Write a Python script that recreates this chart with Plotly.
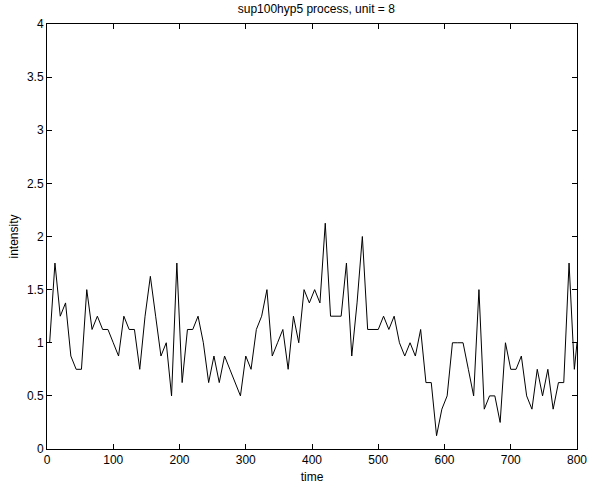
import plotly.graph_objects as go

# Bin centres (bin width 8) and the intensity of each bin
time = [4 + 8 * k for k in range(100)] + [800]
intensity = [
    1.0, 1.75, 1.25, 1.375, 0.875, 0.75, 0.75, 1.5, 1.125, 1.25,
    1.125, 1.125, 1.0, 0.875, 1.25, 1.125, 1.125, 0.75, 1.25, 1.625,
    1.25, 0.875, 1.0, 0.5, 1.75, 0.625, 1.125, 1.125, 1.25, 1.0,
    0.625, 0.875, 0.625, 0.875, 0.75, 0.625, 0.5, 0.875, 0.75, 1.125,
    1.25, 1.5, 0.875, 1.0, 1.125, 0.75, 1.25, 1.0, 1.5, 1.375,
    1.5, 1.375, 2.125, 1.25, 1.25, 1.25, 1.75, 0.875, 1.375, 2.0,
    1.125, 1.125, 1.125, 1.25, 1.125, 1.25, 1.0, 0.875, 1.0, 0.875,
    1.125, 0.625, 0.625, 0.125, 0.375, 0.5, 1.0, 1.0, 1.0, 0.75,
    0.5, 1.5, 0.375, 0.5, 0.5, 0.25, 1.0, 0.75, 0.75, 0.875,
    0.5, 0.375, 0.75, 0.5, 0.75, 0.375, 0.625, 0.625, 1.75, 0.75,
    1.0,
]

x_ticks = [0, 100, 200, 300, 400, 500, 600, 700, 800]
y_ticks = [0, 0.5, 1, 1.5, 2, 2.5, 3, 3.5, 4]
y_tick_text = ["0", "0.5", "1", "1.5", "2", "2.5", "3", "3.5", "4"]

FONT = "Liberation Sans, Arial, Helvetica, sans-serif"
FONT_SIZE = 12

fig = go.Figure(
    go.Scatter(
        x=time,
        y=intensity,
        mode="lines",
        line=dict(color="black", width=1),
        hoverinfo="skip",
    )
)

axis_style = dict(
    showgrid=False,
    zeroline=False,
    showline=True,
    linecolor="black",
    linewidth=1,
    mirror="ticks",
    ticks="inside",
    ticklen=5,
    tickwidth=1,
    tickcolor="black",
    tickfont=dict(family=FONT, size=FONT_SIZE, color="black"),
)

fig.update_xaxes(
    range=[0, 800],
    tickvals=x_ticks,
    title=dict(text="time", font=dict(family=FONT, size=FONT_SIZE, color="black"), standoff=6),
    **axis_style,
)
fig.update_yaxes(
    range=[0, 4],
    tickvals=y_ticks,
    ticktext=y_tick_text,
    title=dict(text="intensity", font=dict(family=FONT, size=FONT_SIZE, color="black"), standoff=5),
    **axis_style,
)

fig.update_layout(
    width=599,
    height=494,
    margin=dict(l=47, r=13, t=24, b=40),
    paper_bgcolor="white",
    plot_bgcolor="white",
    showlegend=False,
    title=dict(
        text="sup100hyp5 process, unit = 8",
        x=0.528,
        xanchor="center",
        y=0.99,
        yanchor="top",
        font=dict(family=FONT, size=FONT_SIZE, color="black"),
    ),
)

fig.write_html("out.html")
